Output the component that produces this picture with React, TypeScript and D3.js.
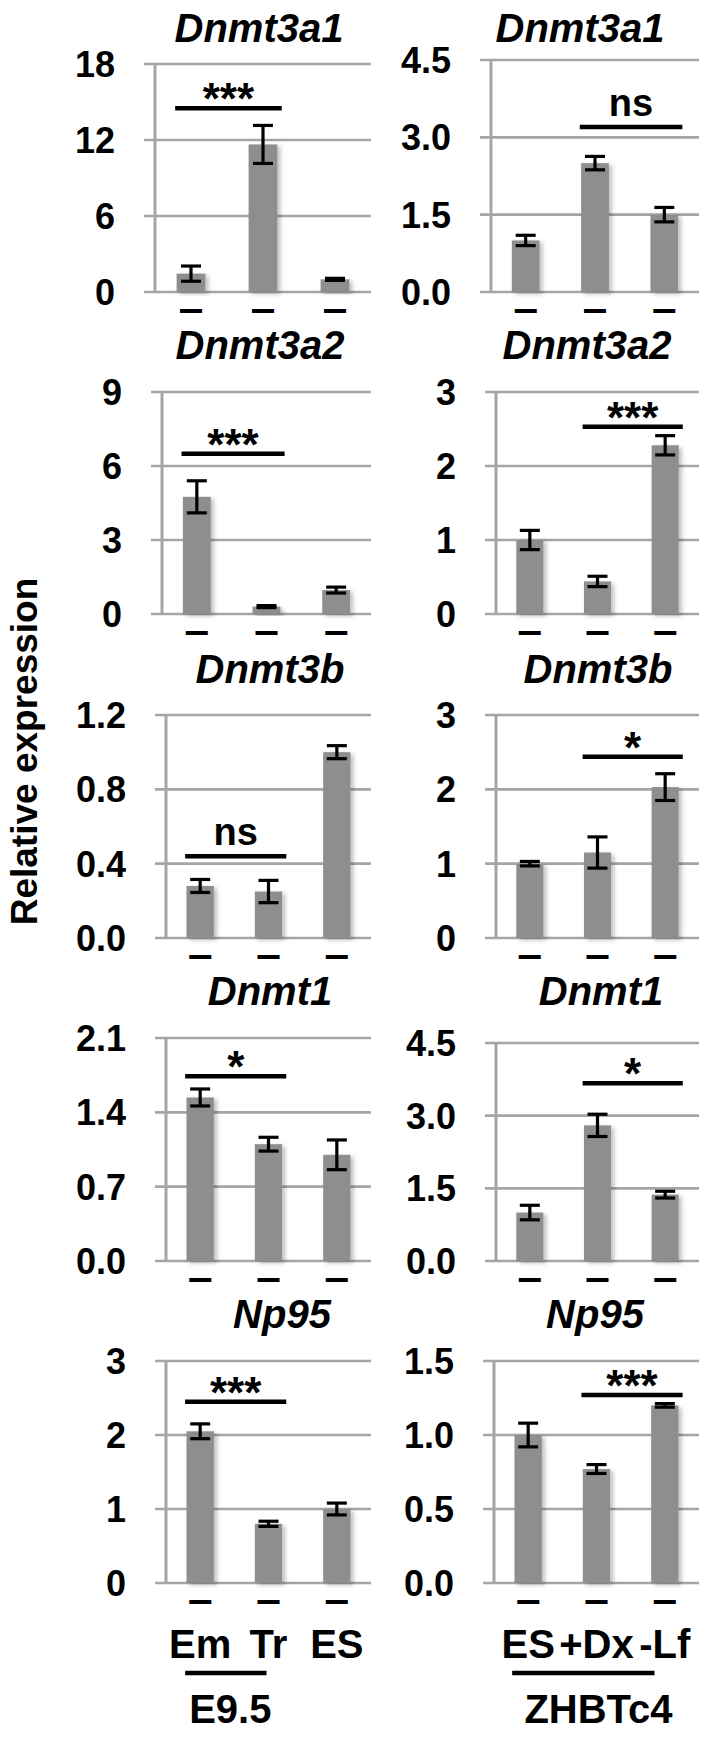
import * as d3 from "d3";
import React from "react";

// genes (rows) and the two sample groups (columns)
const genes = ["Dnmt3a1", "Dnmt3a2", "Dnmt3b", "Dnmt1", "Np95"];
const embryoCats = ["Em", "Tr", "ES"];
const zhbCats = ["ES", "+Dx", "-Lf"];
const embryoGroup = "E9.5";
const zhbGroup = "ZHBTc4";

// E9.5 column
const embryoMean = [
  [1.45, 11.65, 1.0],
  [4.75, 0.3, 0.97],
  [0.28, 0.25, 1.0],
  [1.54, 1.1, 1.0],
  [2.05, 0.8, 1.0],
];
const embryoErr = [
  [0.6, 1.5, 0.08],
  [0.65, 0.04, 0.12],
  [0.035, 0.06, 0.035],
  [0.08, 0.065, 0.14],
  [0.1, 0.035, 0.08],
];
const embryoTicks = [
  ["0", "6", "12", "18"],
  ["0", "3", "6", "9"],
  ["0.0", "0.4", "0.8", "1.2"],
  ["0.0", "0.7", "1.4", "2.1"],
  ["0", "1", "2", "3"],
];
const embryoSig = [
  { from: 0, to: 1, at: 14.5, label: "***" },
  { from: 0, to: 1, at: 6.5, label: "***" },
  { from: 0, to: 1, at: 0.44, label: "ns" },
  { from: 0, to: 1, at: 1.74, label: "*" },
  { from: 0, to: 1, at: 2.45, label: "***" },
];

// ZHBTc4 column
const zhbMean = [
  [1.0, 2.5, 1.5],
  [1.0, 0.44, 2.28],
  [1.0, 1.15, 2.03],
  [1.0, 2.8, 1.37],
  [1.0, 0.77, 1.2],
];
const zhbErr = [
  [0.1, 0.13, 0.14],
  [0.13, 0.07, 0.13],
  [0.03, 0.21, 0.18],
  [0.15, 0.23, 0.07],
  [0.08, 0.03, 0.012],
];
const zhbTicks = [
  ["0.0", "1.5", "3.0", "4.5"],
  ["0", "1", "2", "3"],
  ["0", "1", "2", "3"],
  ["0.0", "1.5", "3.0", "4.5"],
  ["0.0", "0.5", "1.0", "1.5"],
];
const zhbSig = [
  { from: 1, to: 2, at: 3.2, label: "ns" },
  { from: 1, to: 2, at: 2.53, label: "***" },
  { from: 1, to: 2, at: 2.44, label: "*" },
  { from: 1, to: 2, at: 3.67, label: "*" },
  { from: 1, to: 2, at: 1.27, label: "***" },
];

// layout (pixels)
const W = 702;
const H = 1751;
const FONT = "'Liberation Sans', Arial, Helvetica, sans-serif";
const BAR = "#8e8e8e";
const GRID = "#a5a5a5";
const rowZero = [292, 614, 938, 1261, 1583];
const leftTop = [64, 392, 715, 1038, 1361];
const rightTop = [60, 392, 715, 1043, 1361];
const leftAxisX = [155, 162, 166, 166, 166];
const rightAxisX = [491, 496, 496, 496, 494];
const leftEnd = 371;
const rightEnd = 699;
const titleY = [42, 359, 683, 1005, 1328];
const leftTitleX = [259, 260, 270, 270, 282];
const rightTitleX = [580, 587, 598, 601, 595];

interface Sig { from: number; to: number; at: number; label: string }
interface PanelProps {
  id: string;
  title: string;
  tx: number;
  ty: number;
  x0: number;
  x1: number;
  top: number;
  zero: number;
  ticks: string[];
  mean: number[];
  err: number[];
  sig: Sig;
  cats: string[];
}

const Panel: React.FC<PanelProps> = ({ id, title, tx, ty, x0, x1, top, zero, ticks, mean, err, sig, cats }) => {
  const tv = ticks.map(Number);
  const y = d3.scaleLinear().domain([0, d3.max(tv) as number]).range([zero, top]);
  const x = d3.scaleBand<number>().domain(d3.range(mean.length)).range([x0, x1]).paddingInner(0.6).paddingOuter(0.3);
  const cx = (i: number) => (x(i) as number) + x.bandwidth() / 2;
  const step = x.step();
  const sx1 = cx(sig.from) - 0.22 * step;
  const sx2 = cx(sig.to) + 0.26 * step;
  const sy = y(sig.at);
  const isStar = sig.label.includes("*");
  return (
    <g>
      <text x={tx} y={ty} textAnchor="middle" fontSize={40} fontWeight="bold" fontStyle="italic">{title}</text>
      {tv.map((t, i) => (
        <g key={i}>
          <line x1={x0 - 11} x2={x1} y1={y(t)} y2={y(t)} stroke={GRID} strokeWidth={2.6} />
          <text x={x0 - 40} y={y(t)} dy="0.36em" textAnchor="end" fontSize={36} fontWeight="bold">{ticks[i]}</text>
        </g>
      ))}
      <line x1={x0} x2={x0} y1={top} y2={zero} stroke={GRID} strokeWidth={3} />
      {mean.map((v, i) => (
        <rect key={i} x={x(i)} y={y(v)} width={x.bandwidth()} height={zero - y(v)} fill={BAR} filter={`url(#${id})`} />
      ))}
      {mean.map((v, i) => (
        <g key={i} stroke="#000" strokeWidth={3.2}>
          <line x1={cx(i)} x2={cx(i)} y1={y(v + err[i])} y2={y(v - err[i])} />
          <line x1={cx(i) - 10} x2={cx(i) + 10} y1={y(v + err[i])} y2={y(v + err[i])} />
          <line x1={cx(i) - 10} x2={cx(i) + 10} y1={y(v - err[i])} y2={y(v - err[i])} />
        </g>
      ))}
      <line x1={sx1} x2={sx2} y1={sy} y2={sy} stroke="#000" strokeWidth={4.5} />
      <text x={(sx1 + sx2) / 2} y={isStar ? sy + 6 : sy - 11} textAnchor="middle" fontSize={isStar ? 44 : 38} fontWeight="bold">{sig.label}</text>
      {/* category labels are plain dashes */}
      {cats.map((c, i) => (
        <text key={c} x={cx(i)} y={zero + 24} textAnchor="middle" fontSize={20} fontWeight="bold"
          stroke="#000" strokeWidth={2}>—</text>
      ))}
    </g>
  );
};

export default function App() {
  const last = genes.length - 1;
  const lx = d3.scaleBand<number>().domain(d3.range(3)).range([leftAxisX[last], leftEnd]).paddingInner(0.6).paddingOuter(0.3);
  const rx = d3.scaleBand<number>().domain(d3.range(3)).range([rightAxisX[last], rightEnd]).paddingInner(0.6).paddingOuter(0.3);
  const lc = (i: number) => (lx(i) as number) + lx.bandwidth() / 2;
  const rc = (i: number) => (rx(i) as number) + rx.bandwidth() / 2;
  const base = rowZero[last];
  return (
    <div style={{ position: "absolute", left: 0, top: 0 }}>
      <svg width={W} height={H} viewBox={`0 0 ${W} ${H}`} fontFamily={FONT} style={{ display: "block", background: "#fff" }}>
        <defs>
          {genes.map((g, i) => ["L", "R"].map(s => (
            <filter key={g + s} id={`sh${s}${i}`} x="-30%" y="-10%" width="170%" height="130%">
              <feDropShadow dx={3} dy={2} stdDeviation={2.2} floodColor="#000" floodOpacity={0.25} />
            </filter>
          )))}
        </defs>
        <text transform={`translate(37,${(leftTop[2] + rowZero[2]) / 2 - 75}) rotate(-90)`} textAnchor="middle" fontSize={37} fontWeight="bold">Relative expression</text>
        {genes.map((g, i) => (
          <g key={g}>
            <Panel id={`shL${i}`} title={g} tx={leftTitleX[i]} ty={titleY[i]} x0={leftAxisX[i]} x1={leftEnd}
              top={leftTop[i]} zero={rowZero[i]} ticks={embryoTicks[i]} mean={embryoMean[i]} err={embryoErr[i]}
              sig={embryoSig[i]} cats={embryoCats} />
            <Panel id={`shR${i}`} title={g} tx={rightTitleX[i]} ty={titleY[i]} x0={rightAxisX[i]} x1={rightEnd}
              top={rightTop[i]} zero={rowZero[i]} ticks={zhbTicks[i]} mean={zhbMean[i]} err={zhbErr[i]}
              sig={zhbSig[i]} cats={zhbCats} />
          </g>
        ))}
        {/* sample names and group labels */}
        {embryoCats.map((c, i) => (
          <text key={"e" + c} x={lc(i)} y={base + 75} textAnchor="middle" fontSize={40} fontWeight="bold">{c}</text>
        ))}
        {zhbCats.map((c, i) => (
          <text key={"z" + c} x={rc(i)} y={base + 75} textAnchor="middle" fontSize={40} fontWeight="bold">{c}</text>
        ))}
        <line x1={lc(0) - 15} x2={lc(1) - 2} y1={base + 90} y2={base + 90} stroke="#000" strokeWidth={4.5} />
        <line x1={rc(0) - 16} x2={rc(1) + 58} y1={base + 90} y2={base + 90} stroke="#000" strokeWidth={4.5} />
        <text x={(lc(0) + lc(1)) / 2 - 4} y={base + 140} textAnchor="middle" fontSize={40} fontWeight="bold">{embryoGroup}</text>
        <text x={rc(1) + 2} y={base + 140} textAnchor="middle" fontSize={40} fontWeight="bold">{zhbGroup}</text>
      </svg>
    </div>
  );
}
